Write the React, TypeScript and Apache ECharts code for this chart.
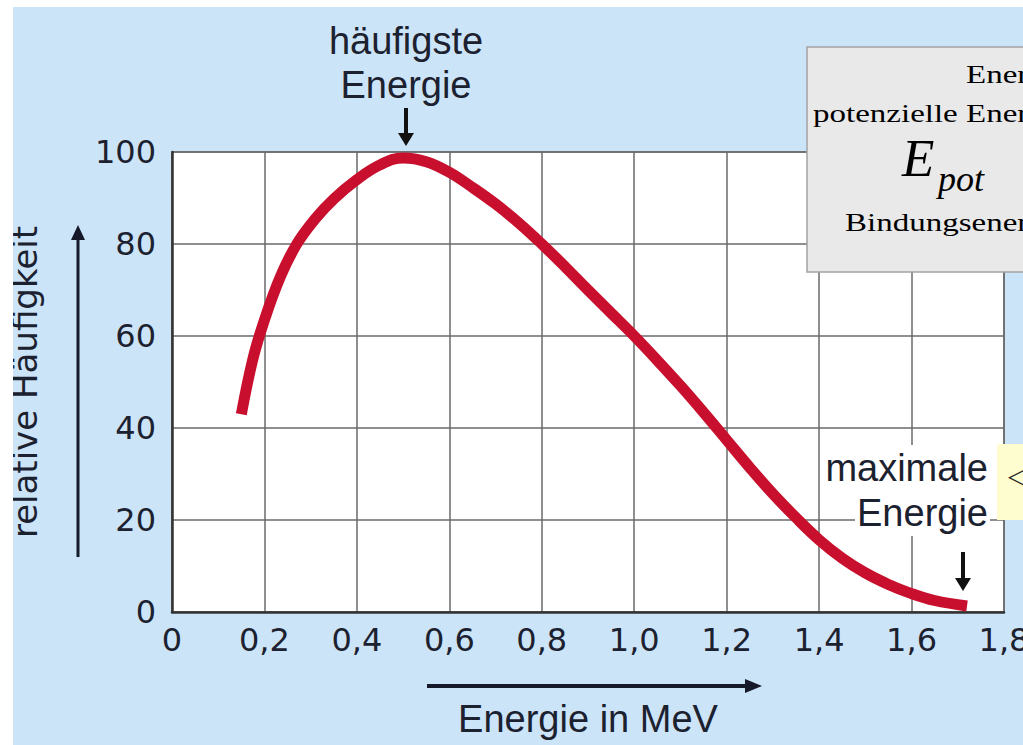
import React, { useEffect, useRef } from "react";
import * as echarts from "echarts";

const energyMeV = [0.15, 0.175, 0.2, 0.235, 0.27, 0.31, 0.35, 0.4, 0.45, 0.5, 0.55, 0.6, 0.65, 0.7, 0.75, 0.8, 0.85, 0.9, 0.95, 1.0, 1.05, 1.1, 1.15, 1.2, 1.25, 1.3, 1.35, 1.4, 1.45, 1.5, 1.55, 1.6, 1.65, 1.72];
const relFrequency = [43, 55, 63.5, 73, 80, 85.5, 89.8, 94, 97.2, 98.7, 97.9, 95.6, 92.3, 88.7, 84.6, 80, 75.1, 70, 65, 60, 54.7, 49.2, 43.4, 37.4, 31.4, 25.7, 20.5, 15.7, 11.7, 8.5, 6, 4, 2.5, 1.3];
const xTickLabels = ["0", "0,2", "0,4", "0,6", "0,8", "1,0", "1,2", "1,4", "1,6", "1,8"];
const yTickLabels = ["0", "20", "40", "60", "80", "100"];

const SANS = '"Liberation Sans", Arial, sans-serif';
const DEJAVU = '"DejaVu Sans", sans-serif';
const SERIF = '"Liberation Serif", "Times New Roman", serif';
const INK = "#1c2130";

function txt(x: number, y: number, text: string, extra: any = {}, elExtra: any = {}) {
  return {
    type: "text",
    x,
    y,
    z: 100,
    ...elExtra,
    style: {
      text,
      fill: INK,
      fontSize: 38,
      fontFamily: SANS,
      align: "center",
      textAlign: "center",
      verticalAlign: "middle",
      textVerticalAlign: "middle",
      ...extra,
    },
  };
}

function arrowDown(x: number, y1: number, y2: number) {
  return [
    { type: "line", z: 100, shape: { x1: x, y1, x2: x, y2: y2 - 10 }, style: { stroke: "#111", lineWidth: 4 } },
    { type: "polygon", z: 100, shape: { points: [[x - 8, y2 - 13], [x + 8, y2 - 13], [x, y2]] }, style: { fill: "#111" } },
  ];
}

export default function App() {
  const ref = useRef<HTMLDivElement>(null);
  useEffect(() => {
    if (!ref.current) return;
    const chart = echarts.init(ref.current, null, { renderer: "svg" });
    const data = energyMeV.map((e, i) => [e, relFrequency[i]]);
    const boxText = { fontFamily: SERIF, fontSize: 25, fill: "#000", align: "right", textAlign: "right" };
    chart.setOption({
      animation: false,
      backgroundColor: "#cce4f8",
      grid: {
        left: 159,
        top: 145,
        right: 19,
        bottom: 133,
        containLabel: false,
        outerBoundsMode: "none",
        show: true,
        backgroundColor: "#ffffff",
        borderColor: "#6a6a6a",
        borderWidth: 1.5,
      },
      xAxis: {
        type: "value",
        min: 0,
        max: 1.8,
        interval: 0.2,
        name: "Energie in MeV",
        nameLocation: "middle",
        nameGap: 88,
        nameTextStyle: { fontSize: 38, fontFamily: SANS, color: INK },
        axisLine: { show: true, lineStyle: { color: "#333", width: 2.5 } },
        axisTick: { show: false },
        axisLabel: {
          margin: 12,
          fontSize: 32,
          fontFamily: DEJAVU,
          color: INK,
          formatter: (v: number) => xTickLabels[Math.round(v / 0.2)] ?? "",
        },
        splitLine: { show: true, lineStyle: { color: "#6a6a6a", width: 1.5 } },
      },
      yAxis: {
        type: "value",
        min: 0,
        max: 100,
        interval: 20,
        name: "relative Häufigkeit",
        nameLocation: "middle",
        nameGap: 130,
        nameTextStyle: { fontSize: 34, lineHeight: 34, fontFamily: DEJAVU, color: INK },
        axisLine: { show: true, lineStyle: { color: "#333", width: 2.5 } },
        axisTick: { show: false },
        axisLabel: {
          margin: 16,
          fontSize: 32,
          fontFamily: DEJAVU,
          color: INK,
          formatter: (v: number) => yTickLabels[Math.round(v / 20)] ?? "",
        },
        splitLine: { show: true, lineStyle: { color: "#6a6a6a", width: 1.5 } },
      },
      series: [
        {
          type: "line",
          data,
          showSymbol: false,
          smooth: 0.4,
          lineStyle: { color: "#c8102e", width: 11, cap: "butt" },
          z: 5,
        },
      ],
      graphic: [
        txt(393, 34, "häufigste"),
        txt(393, 78, "Energie"),
        ...arrowDown(393, 101, 139),
        txt(977, 461, "maximale", { align: "right", textAlign: "right", backgroundColor: "#fff", padding: [4, 2] }),
        txt(977, 506, "Energie", { align: "right", textAlign: "right", backgroundColor: "#fff", padding: [4, 2] }),
        ...arrowDown(950, 545, 584),
        // x axis arrow
        { type: "line", z: 100, shape: { x1: 414, y1: 679, x2: 737, y2: 679 }, style: { stroke: "#15192a", lineWidth: 4 } },
        { type: "polygon", z: 100, shape: { points: [[732, 672], [749, 679], [732, 686]] }, style: { fill: "#15192a" } },
        // y axis arrow
        { type: "line", z: 100, shape: { x1: 65, y1: 550, x2: 65, y2: 230 }, style: { stroke: "#15192a", lineWidth: 3 } },
        { type: "polygon", z: 100, shape: { points: [[58, 233], [65, 218], [72, 233]] }, style: { fill: "#15192a" } },
        // gray info box
        { type: "rect", z: 100, shape: { x: 794, y: 40, width: 320, height: 225 }, style: { fill: "#e9e9e9", stroke: "#a3a3a3", lineWidth: 1.5 } },
        txt(1055, 67, "Energie", boxText, { scaleX: 1.32, z: 101 }),
        txt(1055, 106, "potenzielle Energie", boxText, { scaleX: 1.32, z: 101 }),
        txt(889, 151, "E", { fontFamily: SERIF, fontSize: 53, fontStyle: "italic", fill: "#000", align: "left", textAlign: "left" }, { z: 101 }),
        txt(925, 172, "pot", { fontFamily: SERIF, fontSize: 36, fontStyle: "italic", fill: "#000", align: "left", textAlign: "left" }, { z: 101 }),
        txt(1055, 215, "Bindungsenergie", boxText, { scaleX: 1.32, z: 101 }),
        // yellow tooltip box
        { type: "rect", z: 100, shape: { x: 984, y: 437, width: 40, height: 76 }, style: { fill: "#fefdd0" } },
        txt(995, 469, "◁", { fontFamily: DEJAVU, fontSize: 24, fill: "#222", align: "left", textAlign: "left" }, { z: 101 }),
      ],
    });
    return () => chart.dispose();
  }, []);
  return <div ref={ref} style={{ position: "absolute", left: 13, top: 7, width: 1010, height: 738 }} />;
}
